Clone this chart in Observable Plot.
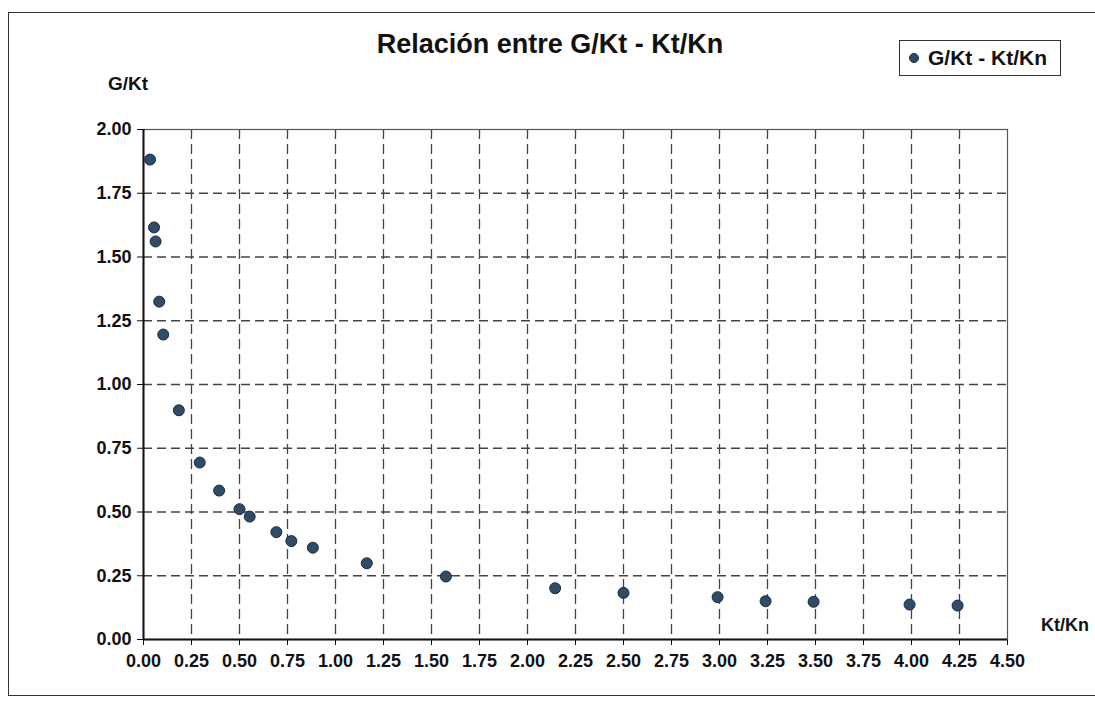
<!DOCTYPE html>
<html>
<head>
<meta charset="utf-8">
<script src="https://cdn.jsdelivr.net/npm/d3@7"></script>
<script src="https://cdn.jsdelivr.net/npm/@observablehq/plot@0.6"></script>
<style>
  html, body { margin: 0; padding: 0; background: #fff; }
  #wrap { position: relative; width: 1095px; height: 702px; overflow: hidden; font-family: "Liberation Sans", Arial, sans-serif; color: #111; }
  #frame { position: absolute; left: 8px; top: 12px; width: 1100px; height: 684px; border: 1.5px solid #333; box-sizing: border-box; }
  .lbl { position: absolute; font-weight: bold; white-space: nowrap; }
  #title { left: 0; width: 1100px; text-align: center; top: 29px; font-size: 27px; }
  #ylab { left: 108px; top: 73px; font-size: 19px; }
  #xlab { left: 1041px; top: 615px; font-size: 18px; }
  #legend { position: absolute; left: 899px; top: 40px; width: 162px; height: 36px; border: 1.5px solid #333; box-sizing: border-box; background: #fff; }
  #legend .dot { position: absolute; left: 9px; top: 12px; width: 10px; height: 10px; border-radius: 50%; background: #2f4b68; border: 1px solid #1b2b3c; box-sizing: border-box; }
  #legend .txt { position: absolute; left: 28px; top: 5px; font-size: 21px; font-weight: bold; }
  #chart { position: absolute; left: 0; top: 0; }
</style>
</head>
<body>
<div id="wrap">
  <div id="frame"></div>
  <div id="chart"></div>
  <div class="lbl" id="title">Relación entre G/Kt - Kt/Kn</div>
  <div class="lbl" id="ylab">G/Kt</div>
  <div class="lbl" id="xlab">Kt/Kn</div>
  <div id="legend"><div class="dot"></div><div class="txt">G/Kt - Kt/Kn</div></div>
</div>
<script>
// Data
const ktKn = [0.034, 0.055, 0.063, 0.082, 0.103, 0.184, 0.293, 0.394, 0.500, 0.553, 0.692, 0.770, 0.882, 1.163, 1.575, 2.144, 2.500, 2.990, 3.240, 3.490, 3.990, 4.240];
const gKt  = [1.882, 1.616, 1.561, 1.325, 1.196, 0.899, 0.694, 0.584, 0.511, 0.482, 0.421, 0.386, 0.360, 0.299, 0.247, 0.201, 0.183, 0.166, 0.150, 0.148, 0.137, 0.133];
const xTicks = [0, 0.25, 0.5, 0.75, 1, 1.25, 1.5, 1.75, 2, 2.25, 2.5, 2.75, 3, 3.25, 3.5, 3.75, 4, 4.25, 4.5];
const yTicks = [0, 0.25, 0.5, 0.75, 1, 1.25, 1.5, 1.75, 2];

const data = ktKn.map((x, i) => ({x, y: gKt[i]}));
const fmt = d3.format(".2f");

const chart = Plot.plot({
  width: 1095,
  height: 702,
  marginLeft: 143,
  marginRight: 88,
  marginTop: 129,
  marginBottom: 63,
  style: {background: "transparent", fontFamily: "'Liberation Sans', Arial, sans-serif", fontWeight: "bold", fontSize: "18px", color: "#111"},
  x: {domain: [0, 4.5], ticks: xTicks, tickFormat: fmt, tickSize: 6, tickPadding: 9, label: null},
  y: {domain: [0, 2], ticks: yTicks, tickFormat: fmt, tickSize: 6, tickPadding: 6, label: null},
  marks: [
    Plot.ruleX(xTicks.slice(1, -1), {stroke: "#444", strokeWidth: 1.3, strokeDasharray: "10,5"}),
    Plot.ruleY(yTicks.slice(1, -1), {stroke: "#444", strokeWidth: 1.3, strokeDasharray: "9,5"}),
    Plot.frame({stroke: "#555", strokeWidth: 1.2}),
    Plot.ruleX([0], {stroke: "#111", strokeWidth: 2}),
    Plot.ruleY([0], {stroke: "#111", strokeWidth: 2}),
    Plot.dot(data, {x: "x", y: "y", r: 5.5, fill: "#2f4b68", stroke: "#1b2b3c", strokeWidth: 1})
  ]
});
document.getElementById("chart").appendChild(chart);
</script>
</body>
</html>
